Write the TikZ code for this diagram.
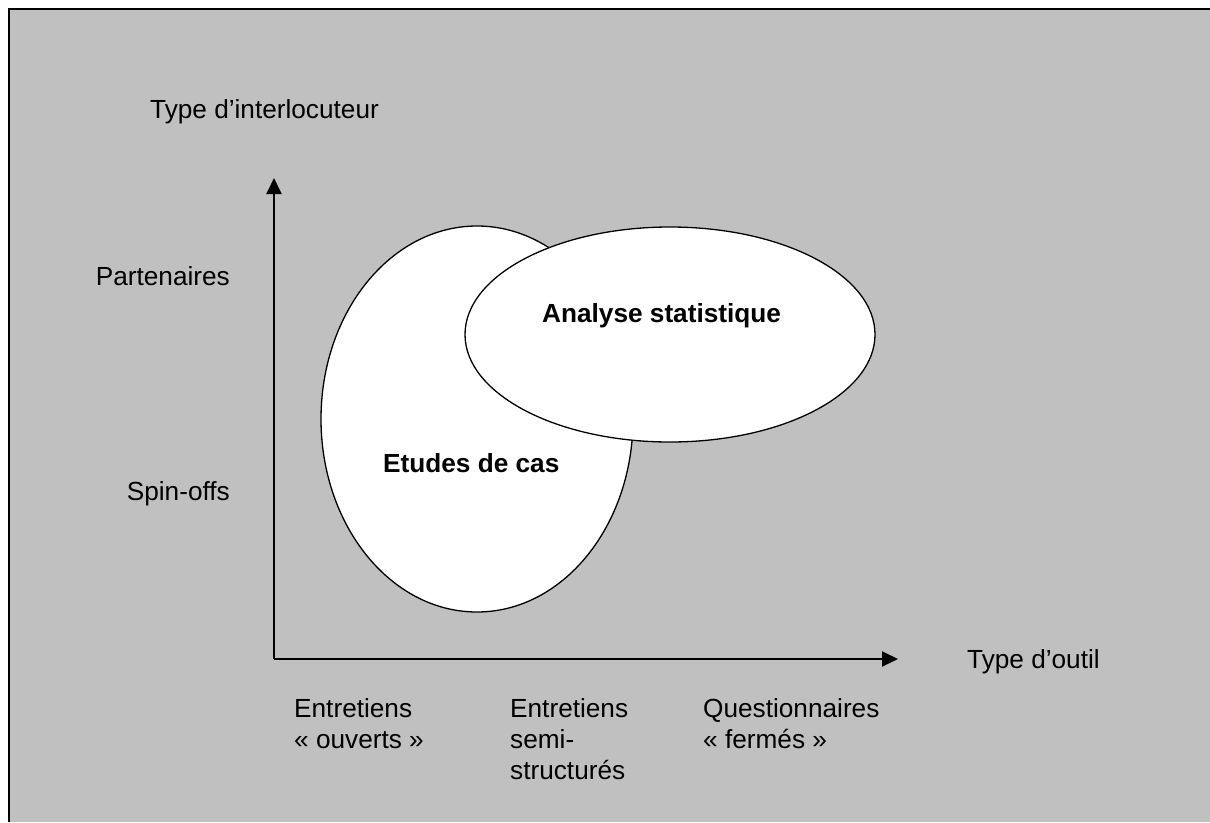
\documentclass[tikz,border=0pt]{standalone}
\usepackage{fontspec}
\setmainfont{Liberation Sans}
\usetikzlibrary{arrows.meta}
\definecolor{bggray}{HTML}{C0C0C0}
\tikzset{
  lbl/.style={inner sep=0pt, font=\fontsize{26.2}{31}\selectfont},
  lblb/.style={lbl, font=\fontsize{26.2}{31}\selectfont\bfseries},
  axis/.style={line width=2pt, -{Triangle[length=16pt,width=15pt]}},
  blob/.style={draw=black, fill=white, line width=1.3pt},
}
\begin{document}
\begin{tikzpicture}[x=1pt,y=-1pt]
\useasboundingbox (0,0) rectangle (1210,822);
\fill[white] (0,0) rectangle (1210,822);
\fill[bggray] (9,9) rectangle (1210,822);
\draw[line width=2.5pt] (9,822) -- (9,9) -- (1210,9);
% ellipses
\draw[blob] (477,419) ellipse [x radius=156, y radius=193];
\draw[blob] (670,334.5) ellipse [x radius=205, y radius=107.5];
\node[lblb, anchor=base west] (etudes) at (383,472) {Etudes de cas};
\node[lblb, anchor=base west] (analyse) at (542,322) {Analyse statistique};
% axes
\coordinate (o) at (274,659);
\coordinate (ytip) at (274,178);
\coordinate (xtip) at (898,659);
\draw[axis] (o) -- (ytip);
\draw[axis] (o) -- (xtip);
% labels
\node[lbl, anchor=base west] (ylab) at (150,118) {Type d’interlocuteur};
\node[lbl, anchor=base east] (part) at (230,285) {Partenaires};
\node[lbl, anchor=base east] (spin) at (230,500) {Spin-offs};
\node[lbl, anchor=base west] (xlab) at (967,668) {Type d’outil};
\node[lbl, anchor=base west] (e1) at (294,717) {\vtop{\hbox{Entretiens}\hbox{« ouverts »}}};
\node[lbl, anchor=base west] (e2) at (510,717) {\vtop{\hbox{Entretiens}\hbox{semi-}\hbox{structurés}}};
\node[lbl, anchor=base west] (q) at (703,717) {\vtop{\hbox{Questionnaires}\hbox{« fermés »}}};
\end{tikzpicture}
\end{document}
